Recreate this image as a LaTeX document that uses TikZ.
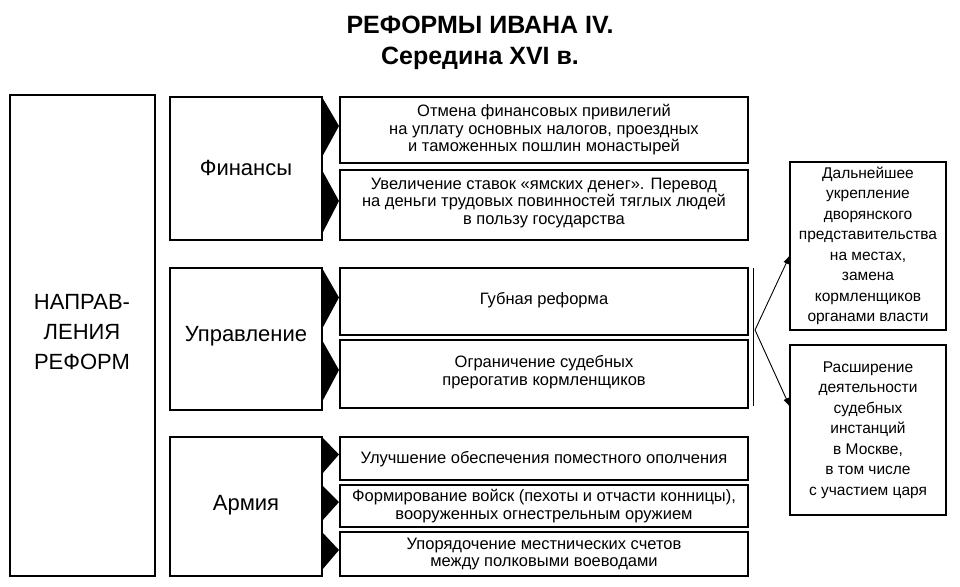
\documentclass[tikz,border=0pt]{standalone}
\usepackage{fontspec}
\setmainfont{Liberation Sans}
\usetikzlibrary{arrows.meta}
\tikzset{
 bx/.style={draw, line width=1.1pt, fill=white},
 sm/.style={font=\fontsize{16.5}{17.5}\selectfont, align=center},
 rs/.style={font=\fontsize{15.5}{20.5}\selectfont, align=center},
 big/.style={font=\fontsize{22}{30}\selectfont, align=center},
 arr/.style={-{Latex[length=9pt,width=6pt]}, line width=0.9pt}
}
\begin{document}
\begin{tikzpicture}[x=1pt,y=-1pt]
\useasboundingbox (0,0) rectangle (960,586);
\node[font=\bfseries\fontsize{25}{30}\selectfont] (t1) at (480,25) {РЕФОРМЫ ИВАНА IV.};
\node[font=\bfseries\fontsize{25}{30}\selectfont] (t2) at (480,58) {Середина XVI в.};
% left big box
\draw[bx] (10,95) rectangle (155,576);
\node[big] (nap) at (82,332) {НАПРАВ-\\ЛЕНИЯ\\РЕФОРМ};
% group boxes
\draw[bx] (170,97) rectangle (322,240);
\node[big] (fin) at (246,168) {Финансы};
\draw[bx] (170,268) rectangle (322,410);
\node[big] (upr) at (246,336) {Управление};
\draw[bx] (170,437) rectangle (322,576);
\node[big] (arm) at (246,505) {Армия};
% triangles
\foreach \a/\b in {97/163,170/240,268/335,340/408,437/480,485/527,532/576}{
  \fill (322,\a) -- (339,{(\a+\b)/2-4}) -- (322,{\b-6}) -- cycle;
}
% right boxes
\draw[bx] (340,97) rectangle (748,163);
\node[sm] (f1) at (544,130) {Отмена финансовых привилегий\\на уплату основных налогов, проездных\\и таможенных пошлин монастырей};
\draw[bx] (340,170) rectangle (748,240);
\node[sm] (f2) at (544,203) {Увеличение ставок «ямских денег». Перевод\\на деньги трудовых повинностей тяглых людей\\в пользу государства};
\draw[bx] (340,268) rectangle (748,335);
\node[sm] (u1) at (544,300) {Губная реформа};
\draw[bx] (340,340) rectangle (748,408);
\node[sm] (u2) at (544,372) {Ограничение судебных\\прерогатив кормленщиков};
\draw[bx] (340,437) rectangle (748,480);
\node[sm] (a1) at (544,459) {Улучшение обеспечения поместного ополчения};
\draw[bx] (340,485) rectangle (748,527);
\node[sm] (a2) at (544,506) {Формирование войск (пехоты и отчасти конницы),\\вооруженных огнестрельным оружием};
\draw[bx] (340,532) rectangle (748,576);
\node[sm] (a3) at (544,554) {Упорядочение местнических счетов\\между полковыми воеводами};
% bracket
\draw[line width=1pt] (753,268) -- (753,406);
\coordinate (br) at (755,330);
% far right
\draw[bx] (790,162) rectangle (946,330);
\node[rs] (r1) at (868,246) {Дальнейшее\\укрепление\\дворянского\\представительства\\на местах,\\замена\\кормленщиков\\органами власти};
\draw[bx] (790,345) rectangle (946,515);
\node[rs] (r2) at (868,430) {Расширение\\деятельности\\судебных\\инстанций\\в Москве,\\в том числе\\с участием царя};
\coordinate (e1) at (790,255);
\coordinate (e2) at (790,407);
\draw[arr] (br) -- (e1);
\draw[arr] (br) -- (e2);
\end{tikzpicture}
\end{document}
